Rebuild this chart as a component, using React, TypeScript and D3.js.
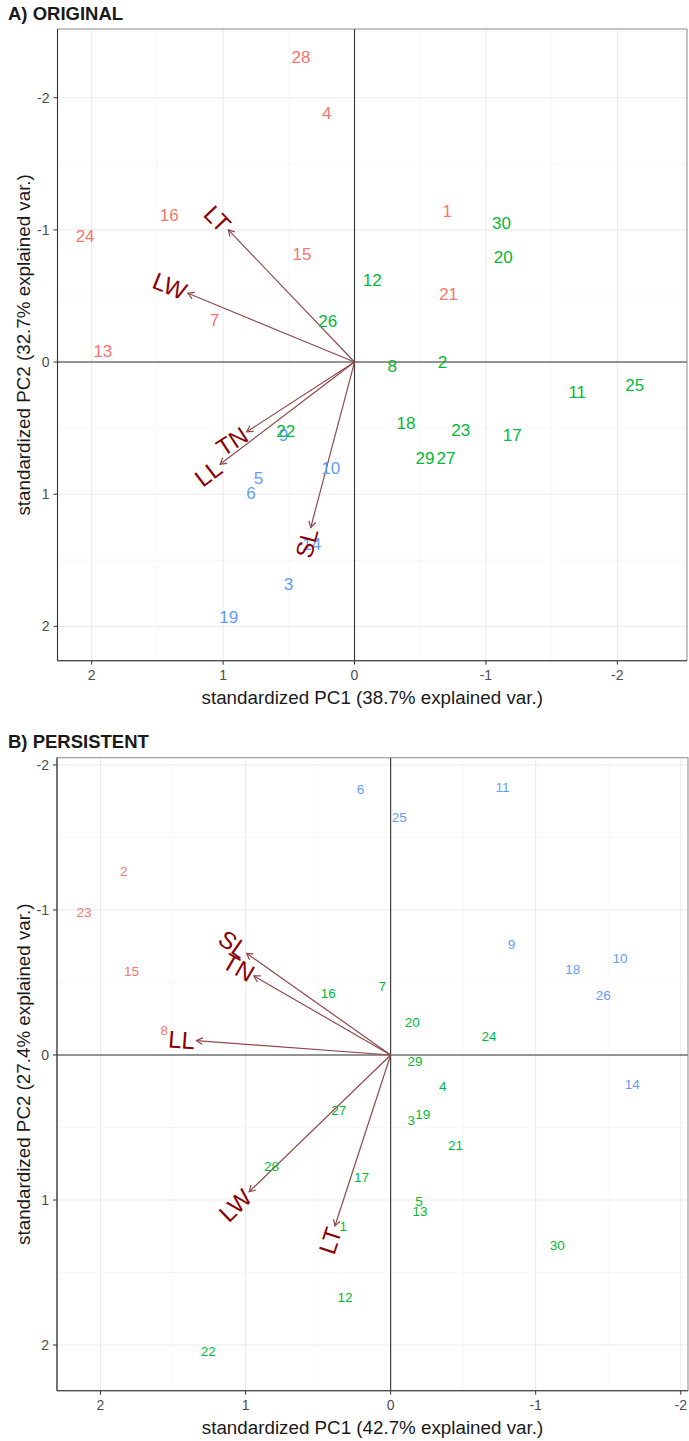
import React from "react";
import * as d3 from "d3";

// ---------- Panel A (ORIGINAL) ----------
const idsA = [1, 2, 3, 4, 5, 6, 7, 8, 9, 10, 11, 12, 13, 14, 15, 16, 17, 18, 19, 20, 21, 22, 23, 24, 25, 26, 27, 28, 29, 30];
const pc1A = [-0.706, -0.67, 0.503, 0.211, 0.73, 0.787, 1.066, -0.288, 0.54, 0.181, -1.695, -0.135, 1.915, 0.325, 0.40, 1.41, -1.2, -0.392, 0.957, -1.132, -0.716, 0.523, -0.808, 2.05, -2.133, 0.204, -0.696, 0.407, -0.536, -1.119];
const pc2A = [-1.146, -0.003, 1.68, -1.884, 0.876, 0.987, -0.318, 0.03, 0.55, 0.80, 0.225, -0.621, -0.083, 1.379, -0.818, -1.114, 0.553, 0.457, 1.93, -0.798, -0.515, 0.52, 0.51, -0.955, 0.174, -0.313, 0.722, -2.31, 0.722, -1.05];
const grpA = [0, 1, 2, 0, 2, 2, 0, 1, 2, 2, 1, 1, 0, 2, 0, 0, 1, 1, 2, 1, 0, 1, 1, 0, 1, 1, 1, 0, 1, 1];
const varsA = ["LT", "LW", "TN", "LL", "SL"];
const varXA = [0.96, 1.268, 0.82, 1.023, 0.333];
const varYA = [-1.0, -0.52, 0.528, 0.773, 1.252];

// ---------- Panel B (PERSISTENT) ----------
const idsB = [1, 2, 3, 4, 5, 6, 7, 8, 9, 10, 11, 12, 13, 14, 15, 16, 17, 18, 19, 20, 21, 22, 23, 24, 25, 26, 27, 28, 29, 30];
const pc1B = [0.327, 1.839, -0.142, -0.359, -0.195, 0.207, 0.058, 1.561, -0.834, -1.581, -0.772, 0.315, -0.202, -1.666, 1.786, 0.43, 0.2, -1.255, -0.221, -0.149, -0.448, 1.258, 2.113, -0.678, -0.06, -1.466, 0.357, 0.821, -0.168, -1.149];
const pc2B = [1.18, -1.269, 0.448, 0.212, 1.005, -1.834, -0.478, -0.172, -0.766, -0.667, -1.846, 1.667, 1.074, 0.2, -0.581, -0.425, 0.844, -0.59, 0.407, -0.225, 0.621, 2.041, -0.984, -0.131, -1.64, -0.414, 0.379, 0.766, 0.041, 1.31];
const grpB = [1, 0, 1, 1, 1, 2, 1, 0, 2, 2, 2, 1, 1, 2, 0, 1, 1, 2, 1, 1, 1, 1, 0, 1, 2, 2, 1, 1, 1, 1];
const varsB = ["SL", "TN", "LL", "LW", "LT"];
const varXB = [0.993, 0.943, 1.338, 0.975, 0.384];
const varYB = [-0.701, -0.545, -0.099, 0.943, 1.179];

const ticks = [-2, -1, 0, 1, 2];
const groupColors = ["#F8766D", "#00BA38", "#619CFF"];
const FONT = "'Liberation Sans', Arial, Helvetica, sans-serif";

const charW: Record<string, number> = { L: 0.556, T: 0.611, W: 0.944, N: 0.722, S: 0.667 };

type PanelProps = {
  title: string;
  titleY: number;
  xDomain: [number, number];
  yDomain: [number, number];
  left: number; right: number; top: number; bottom: number;
  ids: number[]; pc1: number[]; pc2: number[]; grp: number[];
  vars: string[]; vx: number[]; vy: number[];
  xLabel: string; yLabel: string;
  ptSize: number;
};

function Panel(p: PanelProps) {
  const x = d3.scaleLinear().domain(p.xDomain).range([p.left, p.right]);
  const y = d3.scaleLinear().domain(p.yDomain).range([p.top, p.bottom]);
  const xMinor = d3.range(-3, 3.01, 0.5).filter(v => Math.abs(v % 1) > 0.1 && x(v) > p.left + 0.5 && x(v) < p.right - 0.5);
  const yMinor = d3.range(-3, 3.01, 0.5).filter(v => Math.abs(v % 1) > 0.1 && y(v) > p.top + 0.5 && y(v) < p.bottom - 0.5);
  const ox = x(0), oy = y(0);
  const varFs = 24;
  return (
    <g fontFamily={FONT}>
      <text x={8} y={p.titleY} fontSize={18.5} fontWeight="bold" fill="#1a1a1a">{p.title}</text>
      <rect x={p.left} y={p.top} width={p.right - p.left} height={p.bottom - p.top} fill="#fff" />
      {xMinor.map(v => <line key={"xm" + v} x1={x(v)} x2={x(v)} y1={p.top} y2={p.bottom} stroke="#f2f2f2" strokeWidth={0.6} />)}
      {yMinor.map(v => <line key={"ym" + v} y1={y(v)} y2={y(v)} x1={p.left} x2={p.right} stroke="#f2f2f2" strokeWidth={0.6} />)}
      {ticks.map(v => <line key={"xg" + v} x1={x(v)} x2={x(v)} y1={p.top} y2={p.bottom} stroke="#ebebeb" strokeWidth={1.1} />)}
      {ticks.map(v => <line key={"yg" + v} y1={y(v)} y2={y(v)} x1={p.left} x2={p.right} stroke="#ebebeb" strokeWidth={1.1} />)}
      <line x1={p.left} x2={p.right} y1={oy} y2={oy} stroke="#333" strokeWidth={1.1} />
      <line x1={ox} x2={ox} y1={p.top} y2={p.bottom} stroke="#333" strokeWidth={1.1} />
      {p.vars.map((v, i) => {
        const tx = x(p.vx[i]), ty = y(p.vy[i]);
        const ang = Math.atan2(ty - oy, tx - ox);
        const hl = 7, ha = Math.PI / 6;
        const a1x = tx - hl * Math.cos(ang - ha), a1y = ty - hl * Math.sin(ang - ha);
        const a2x = tx - hl * Math.cos(ang + ha), a2y = ty - hl * Math.sin(ang + ha);
        return (
          <g key={"ar" + v} stroke="#8f4a4a" strokeWidth={1.2} fill="none">
            <line x1={ox} y1={oy} x2={tx} y2={ty} />
            <path d={`M${a1x},${a1y}L${tx},${ty}L${a2x},${a2y}`} />
          </g>
        );
      })}
      {p.ids.map((id, i) => (
        <text key={"pt" + id} x={x(p.pc1[i])} y={y(p.pc2[i])} dy="0.36em" textAnchor="middle" fontSize={p.ptSize} fill={groupColors[p.grp[i]]}>{id}</text>
      ))}
      {p.vars.map((v, i) => {
        const tx = x(p.vx[i]), ty = y(p.vy[i]);
        const dx = tx - ox, dyy = ty - oy;
        const len = Math.hypot(dx, dyy);
        const ux = dx / len, uy = dyy / len;
        const w = v.split("").reduce((s, c) => s + (charW[c] || 0.6), 0) * varFs;
        const off = w / 2 + 1.5;
        const cx = tx + ux * off, cy = ty + uy * off;
        let deg = Math.atan2(dyy, dx) * 180 / Math.PI;
        if (deg > 90) deg -= 180;
        if (deg < -90) deg += 180;
        return (
          <text key={"vl" + v} x={cx} y={cy} dy="0.36em" textAnchor="middle" fontSize={varFs} fill="#8B0000" transform={`rotate(${deg},${cx},${cy})`}>{v}</text>
        );
      })}
      <rect x={p.left} y={p.top} width={p.right - p.left} height={p.bottom - p.top} fill="none" stroke="#8a8a8a" strokeWidth={1} />
      <line x1={p.left} x2={p.left} y1={p.top} y2={p.bottom} stroke="#333" strokeWidth={1.1} />
      <line x1={p.left} x2={p.right} y1={p.bottom} y2={p.bottom} stroke="#333" strokeWidth={1.1} />
      {ticks.map(v => (
        <g key={"xt" + v}>
          <line x1={x(v)} x2={x(v)} y1={p.bottom} y2={p.bottom + 4} stroke="#333" strokeWidth={1} />
          <text x={x(v)} y={p.bottom + 19} textAnchor="middle" fontSize={14} fill="#4d4d4d">{v}</text>
        </g>
      ))}
      {ticks.map(v => (
        <g key={"yt" + v}>
          <line x1={p.left - 4} x2={p.left} y1={y(v)} y2={y(v)} stroke="#333" strokeWidth={1} />
          <text x={p.left - 8} y={y(v)} dy="0.36em" textAnchor="end" fontSize={14} fill="#4d4d4d">{v}</text>
        </g>
      ))}
      <text x={(p.left + p.right) / 2} y={p.bottom + 43} textAnchor="middle" fontSize={18.8} fill="#1a1a1a">{p.xLabel}</text>
      <text transform={`translate(30,${(p.top + p.bottom) / 2}) rotate(-90)`} textAnchor="middle" fontSize={18.8} fill="#1a1a1a">{p.yLabel}</text>
    </g>
  );
}

export default function App() {
  return (
    <svg width={689} height={1441} style={{ position: "absolute", left: 0, top: 0, background: "#fff" }}>
      <rect x={0} y={0} width={689} height={1441} fill="#fff" />
      <Panel title="A) ORIGINAL" titleY={20} xDomain={[2.26, -2.53]} yDomain={[-2.52, 2.26]}
        left={57.5} right={687} top={29} bottom={660.7}
        ids={idsA} pc1={pc1A} pc2={pc2A} grp={grpA} vars={varsA} vx={varXA} vy={varYA}
        xLabel="standardized PC1 (38.7% explained var.)" yLabel="standardized PC2 (32.7% explained var.)" ptSize={17} />
      <Panel title="B) PERSISTENT" titleY={748} xDomain={[2.30, -2.05]} yDomain={[-2.05, 2.315]}
        left={57} right={688} top={757.7} bottom={1390.7}
        ids={idsB} pc1={pc1B} pc2={pc2B} grp={grpB} vars={varsB} vx={varXB} vy={varYB}
        xLabel="standardized PC1 (42.7% explained var.)" yLabel="standardized PC2 (27.4% explained var.)" ptSize={13.5} />
    </svg>
  );
}
